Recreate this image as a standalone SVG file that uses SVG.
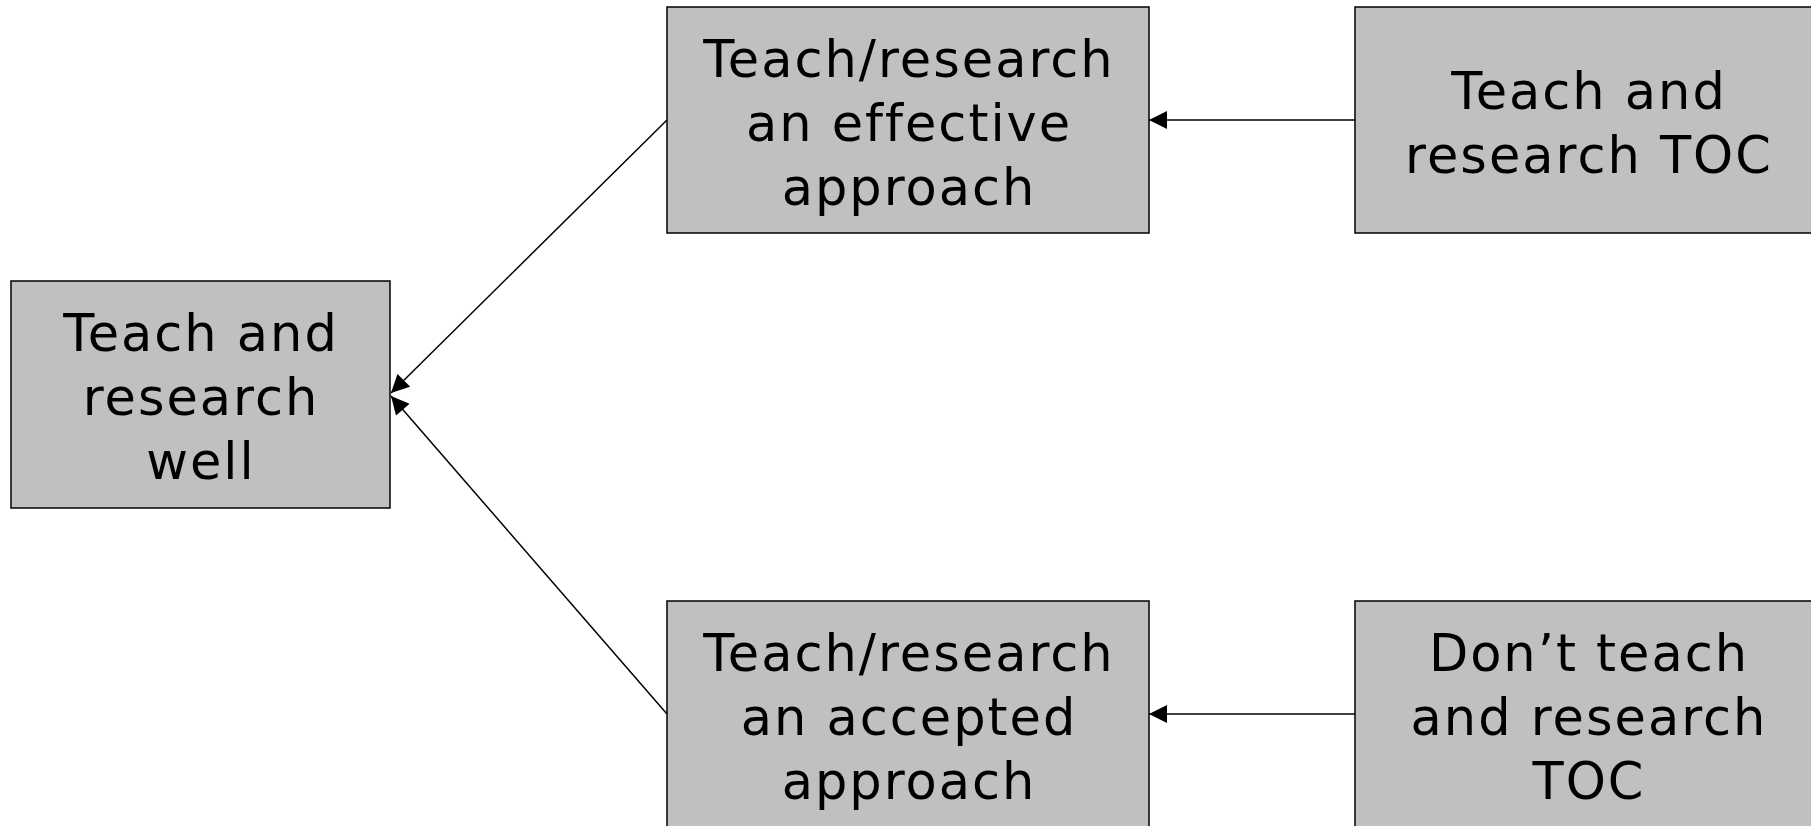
<svg xmlns="http://www.w3.org/2000/svg" width="1811" height="826" viewBox="0 0 1811 826">
<defs>
<style>
.box{fill:#c0c0c0;stroke:#000;stroke-width:1.5}
.t{font-family:"DejaVu Sans",Verdana,sans-serif;font-size:51px;letter-spacing:2px;fill:#000;text-anchor:middle}
.c{stroke:#000;stroke-width:1.5;fill:none;marker-end:url(#ah)}
</style>
<marker id="ah" viewBox="0 0 10 10" refX="10" refY="5" markerWidth="20" markerHeight="18" markerUnits="userSpaceOnUse" orient="auto">
<path d="M0,0 L10,5 L0,10 z" fill="#000"/>
</marker>
</defs>
<rect width="1811" height="826" fill="#fff"/>
<g id="connectors">
<line class="c" x1="667" y1="120" x2="391" y2="393"/>
<line class="c" x1="667" y1="714" x2="391" y2="396"/>
<line class="c" x1="1355" y1="120" x2="1149" y2="120"/>
<line class="c" x1="1355" y1="714" x2="1149" y2="714"/>
</g>
<g id="n-well">
<rect class="box" x="11" y="281" width="379" height="227"/>
<text class="t"><tspan x="201" y="351">Teach and</tspan><tspan x="201" y="415">research</tspan><tspan x="201" y="479">well</tspan></text>
</g>
<g id="n-effective">
<rect class="box" x="667" y="7" width="482" height="226"/>
<text class="t"><tspan x="909" y="77">Teach/research</tspan><tspan x="909" y="141">an effective</tspan><tspan x="909" y="205">approach</tspan></text>
</g>
<g id="n-toc">
<rect class="box" x="1355" y="7" width="470" height="226"/>
<text class="t"><tspan x="1589" y="109">Teach and</tspan><tspan x="1589" y="173">research TOC</tspan></text>
</g>
<g id="n-accepted">
<rect class="box" x="667" y="601" width="482" height="240"/>
<text class="t"><tspan x="909" y="671">Teach/research</tspan><tspan x="909" y="735">an accepted</tspan><tspan x="909" y="799">approach</tspan></text>
</g>
<g id="n-donttoc">
<rect class="box" x="1355" y="601" width="470" height="240"/>
<text class="t"><tspan x="1589" y="671">Don’t teach</tspan><tspan x="1589" y="735">and research</tspan><tspan x="1589" y="799">TOC</tspan></text>
</g>
</svg>
